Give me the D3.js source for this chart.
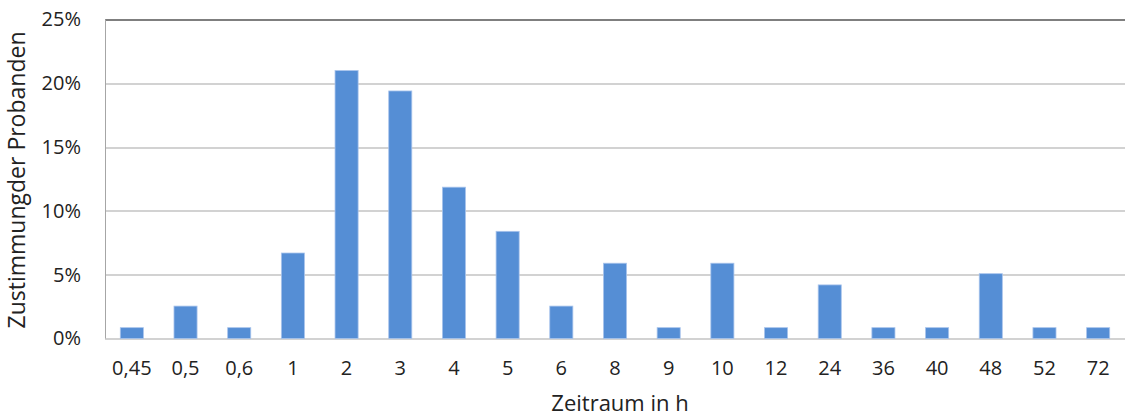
<!DOCTYPE html>
<html>
<head>
<meta charset="utf-8">
<title>Zeitraum</title>
<script src="https://d3js.org/d3.v7.min.js"></script>
<style>
  body { margin: 0; background: #fff; }
  text { font-family: "Open Sans", sans-serif; fill: #222; }
</style>
</head>
<body>
<div id="chart"></div>
<script>
// Zeitraum in h
var categories = ["0,45", "0,5", "0,6", "1", "2", "3", "4", "5", "6", "8", "9", "10", "12", "24", "36", "40", "48", "52", "72"];
// Zustimmung der Probanden (%)
var values = [0.85, 2.54, 0.85, 6.7, 21.0, 19.4, 11.86, 8.4, 2.54, 5.9, 0.85, 5.9, 0.85, 4.2, 0.85, 0.85, 5.08, 0.85, 0.85];
var yTicks = [0, 5, 10, 15, 20, 25];

var W = 1125, H = 418;
var margin = {top: 19.5, right: 0, bottom: 79.5, left: 105};
var width = W - margin.left - margin.right,
    height = H - margin.top - margin.bottom;

var svg = d3.select("#chart")
  .append("svg")
    .attr("width", W)
    .attr("height", H)
  .append("g")
    .attr("transform", "translate(" + margin.left + "," + margin.top + ")");

var x = d3.scaleBand()
  .domain(categories)
  .range([0, width])
  .paddingInner(0.57)
  .paddingOuter(0.285);

var y = d3.scaleLinear()
  .domain([0, 25])
  .range([height, 0]);

// gridlines
svg.append("g")
  .selectAll("line")
  .data(yTicks)
  .enter()
  .append("line")
    .attr("x1", 0)
    .attr("x2", width)
    .attr("y1", function(d) { return Math.round(y(d)) + 0.5; })
    .attr("y2", function(d) { return Math.round(y(d)) + 0.5; })
    .attr("stroke", function(d) { return d === 25 ? "#555" : "#a6a6a6"; })
    .attr("stroke-width", function(d) { return d === 25 ? 1.5 : 1.2; });

// left axis line
svg.append("line")
  .attr("x1", 0.5).attr("x2", 0.5)
  .attr("y1", y(25)).attr("y2", y(0))
  .attr("stroke", "#a6a6a6");

// bars
svg.selectAll("rect.bar")
  .data(values)
  .enter()
  .append("rect")
    .attr("class", "bar")
    .attr("x", function(d, i) { return x(categories[i]); })
    .attr("y", function(d) { return y(d); })
    .attr("width", x.bandwidth())
    .attr("height", function(d) { return y(0) - y(d); })
    .attr("fill", "#558ed5")
    .attr("stroke", "#a9c4ec")
    .attr("stroke-width", 0.8);

// y axis
var yAxis = svg.append("g")
  .call(d3.axisLeft(y).tickValues(yTicks).tickSize(0).tickPadding(24)
    .tickFormat(function(d) { return d + "%"; }));
yAxis.select(".domain").remove();
yAxis.selectAll("text")
  .style("font-size", "20px")
  .style("font-family", "'Open Sans', sans-serif")
  .attr("fill", "#222");

// x axis
var xAxis = svg.append("g")
  .attr("transform", "translate(0," + height + ")")
  .call(d3.axisBottom(x).tickSize(0).tickPadding(22));
xAxis.select(".domain").remove();
xAxis.selectAll("text")
  .style("font-size", "20px")
  .style("font-family", "'Open Sans', sans-serif")
  .attr("fill", "#222");

// titles
svg.append("text")
  .attr("x", width / 2 + 5)
  .attr("y", height + 72)
  .attr("text-anchor", "middle")
  .style("font-size", "22px")
  .text("Zeitraum in h");

svg.append("text")
  .attr("transform", "translate(" + (-80) + "," + (height / 2 + 1) + ") rotate(-90)")
  .attr("text-anchor", "middle")
  .style("font-size", "23px")
  .text("Zustimmungder Probanden");
</script>
</body>
</html>
